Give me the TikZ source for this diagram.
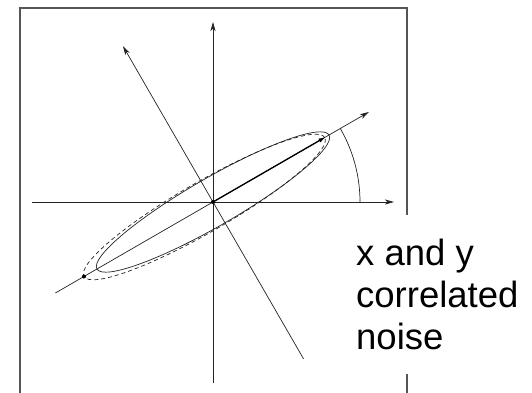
\documentclass[tikz,border=0pt]{standalone}
\usepackage{fontspec}
\setmainfont{Liberation Sans}
\usepackage{tikz}
\usetikzlibrary{arrows.meta,calc}
\definecolor{frm}{RGB}{85,85,85}
\definecolor{ink}{RGB}{35,35,35}

\begin{document}
\begin{tikzpicture}[x=1pt,y=1pt,
  axis/.style={ink,line width=0.7pt,-{Stealth[length=9pt,width=5pt,inset=2.5pt]}},
  curve/.style={ink,line width=0.7pt},
  dot/.style={circle,fill=black,inner sep=0pt,minimum size=4pt}]
  \useasboundingbox (-213,-190) rectangle (319,202);
  \coordinate (o) at (0,0);
  % frame, open at the bottom
  \draw[frm,line width=1.3pt] (-193,-192) -- (-193,194) -- (194,194) -- (194,-192);
  % axes
  \draw[axis] (-181,0) -- (181,0);
  \draw[axis] (0,-181) -- (0,180);
  \draw[axis] (-60:181) -- (120:180);
  \draw[axis] (210:182) -- (30:180);
  % noise ellipses
  \draw[curve,rotate=30] (o) ellipse (134 and 24);
  \draw[curve,dash pattern=on 4pt off 3pt,rotate=30] (-10,0) ellipse (139 and 25);
  \draw[curve] (147,0) arc[start angle=0,end angle=30,radius=147];
  \draw[line width=1.3pt,-{Latex[length=7pt,width=4.5pt]}] (o) -- (30:130);
  \node[dot] (c) at (o) {};
  \node[dot] (e) at (210:149) {};
  \node[fill=white,anchor=north west,align=left,inner xsep=6pt,inner ysep=24pt,
    font=\fontsize{36.5}{42}\selectfont] (lbl) at (137,-13) {x and y\\correlated\\noise};
\end{tikzpicture}
\end{document}
